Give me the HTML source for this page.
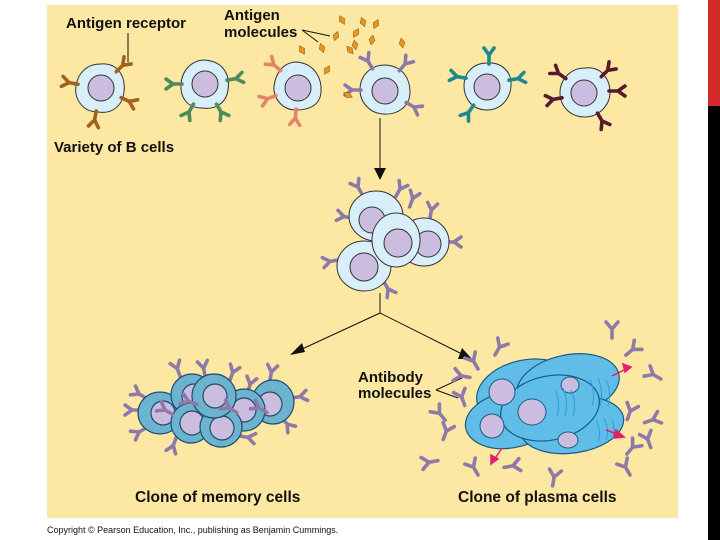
<!DOCTYPE html>
<html><head><meta charset="utf-8"><style>
html,body{margin:0;padding:0;background:#fff;}
svg{display:block;}
text{font-family:"Liberation Sans",Arial,sans-serif;font-weight:bold;fill:#111;}
</style></head><body>
<svg width="720" height="540" viewBox="0 0 720 540" xmlns="http://www.w3.org/2000/svg">
<defs>
<g id="r"><path d="M0,1 L0,-8 L-5,-15 M0,-8 L5,-15" fill="none" stroke-width="3.6" stroke-linecap="round" stroke-linejoin="round"/></g>
<g id="ab"><path d="M0,8 L0,-1 L-6,-8 M0,-1 L6,-8" fill="none" stroke="#8e7aa8" stroke-width="3.6" stroke-linecap="round" stroke-linejoin="round"/></g>
<g id="ag"><path d="M0,-5 L3,0 L0,5 L-3,0Z" fill="#e8961e" stroke="#8a5a10" stroke-width="0.5"/></g>
</defs>
<rect x="47" y="5" width="631" height="513" fill="#fce8a3"/>
<rect x="708" y="0" width="12" height="106" fill="#d32a2a"/>
<rect x="708" y="106" width="12" height="434" fill="#000"/>

<!-- labels -->
<text x="66" y="28" font-size="15">Antigen receptor</text>
<text x="224" y="20" font-size="15">Antigen</text>
<text x="224" y="37" font-size="15">molecules</text>
<text x="54" y="152" font-size="15">Variety of B cells</text>
<text x="358" y="382" font-size="15">Antibody</text>
<text x="358" y="398" font-size="15">molecules</text>
<text x="135" y="502" font-size="15.5">Clone of memory cells</text>
<text x="458" y="502" font-size="15.5">Clone of plasma cells</text>
<text x="47" y="533" font-size="9" style="font-weight:normal">Copyright © Pearson Education, Inc., publishing as Benjamin Cummings.</text>

<!-- leader lines -->
<g stroke="#111" stroke-width="1" fill="none">
<line x1="128" y1="33" x2="128" y2="62"/>
<path d="M302,30 L318,42 M302,30 L330,36"/>
<path d="M436,390 L462,378 M436,390 L458,398"/>
<line x1="380" y1="118" x2="380" y2="170"/>
<path d="M380,293 L380,313 L300,350 M380,313 L462,354"/>
</g>
<path d="M374,168 L386,168 L380,180Z" fill="#111"/>
<path d="M290,355 L302,343 L305,352Z" fill="#111"/>
<path d="M472,359 L458,359 L462,348Z" fill="#111"/>

<!-- top row cells -->
<g stroke="#333" stroke-width="1">
<path d="M100,64 C120,62 126,80 124,92 C122,108 110,114 98,112 C82,112 74,98 76,86 C78,72 88,64 100,64Z" fill="#d8eef9"/>
<circle cx="101" cy="88" r="13" fill="#cbbde0"/>
<path d="M205,60 C226,62 230,78 228,90 C226,104 214,110 202,108 C186,108 180,96 181,84 C182,70 192,60 205,60Z" fill="#d8eef9"/>
<circle cx="205" cy="84" r="13" fill="#cbbde0"/>
<path d="M297,62 C316,64 322,80 321,92 C320,106 308,110 296,110 C282,110 273,98 274,86 C276,72 284,62 297,62Z" fill="#d8eef9"/>
<circle cx="298" cy="88" r="13" fill="#cbbde0"/>
<path d="M385,65 C404,66 410,80 410,92 C410,106 398,115 384,114 C370,114 360,102 360,90 C360,76 370,65 385,65Z" fill="#d8eef9"/>
<circle cx="385" cy="91" r="13" fill="#cbbde0"/>
<path d="M487,63 C502,62 512,72 511,86 C510,100 500,110 487,110 C472,110 464,98 464,86 C464,72 474,63 487,63Z" fill="#d8eef9"/>
<circle cx="487" cy="87" r="13" fill="#cbbde0"/>
<path d="M585,68 C602,66 610,80 610,92 C610,106 598,117 585,117 C570,117 560,106 560,93 C560,80 570,68 585,68Z" fill="#d8eef9"/>
<circle cx="584" cy="93" r="13" fill="#cbbde0"/>
</g>
<g stroke="#a0621e">
<use href="#r" transform="translate(77,84) rotate(-80)"/>
<use href="#r" transform="translate(117,71) rotate(45)"/>
<use href="#r" transform="translate(122,98) rotate(115)"/>
<use href="#r" transform="translate(96,112) rotate(190)"/>
</g>
<g stroke="#4f8a5c">
<use href="#r" transform="translate(181,84) rotate(-90)"/>
<use href="#r" transform="translate(228,80) rotate(80)"/>
<use href="#r" transform="translate(217,105) rotate(150)"/>
<use href="#r" transform="translate(193,105) rotate(210)"/>
</g>
<g stroke="#e4836b">
<use href="#r" transform="translate(280,70) rotate(-50)"/>
<use href="#r" transform="translate(275,96) rotate(250)"/>
<use href="#r" transform="translate(296,110) rotate(185)"/>
</g>
<g stroke="#8e7aa8">
<use href="#r" transform="translate(372,68) rotate(-30)"/>
<use href="#r" transform="translate(400,70) rotate(40)"/>
<use href="#r" transform="translate(360,90) rotate(-90)"/>
<use href="#r" transform="translate(407,103) rotate(120)"/>
</g>
<g stroke="#1e8a8f">
<use href="#r" transform="translate(489,63) rotate(0)"/>
<use href="#r" transform="translate(510,80) rotate(80)"/>
<use href="#r" transform="translate(465,78) rotate(-80)"/>
<use href="#r" transform="translate(473,106) rotate(215)"/>
</g>
<g stroke="#5a1a2e">
<use href="#r" transform="translate(602,76) rotate(45)"/>
<use href="#r" transform="translate(610,91) rotate(90)"/>
<use href="#r" transform="translate(598,114) rotate(150)"/>
<use href="#r" transform="translate(561,98) rotate(260)"/>
<use href="#r" transform="translate(565,78) rotate(-55)"/>
</g>
<use href="#ag" transform="translate(322,48) rotate(-20)"/>
<use href="#ag" transform="translate(336,36) rotate(20)"/>
<use href="#ag" transform="translate(342,20) rotate(-30)"/>
<use href="#ag" transform="translate(356,33) rotate(30)"/>
<use href="#ag" transform="translate(363,22) rotate(-20)"/>
<use href="#ag" transform="translate(376,24) rotate(25)"/>
<use href="#ag" transform="translate(350,50) rotate(-40)"/>
<use href="#ag" transform="translate(327,70) rotate(30)"/>
<use href="#ag" transform="translate(302,50) rotate(-30)"/>
<use href="#ag" transform="translate(355,45) rotate(-10)"/>
<use href="#ag" transform="translate(372,40) rotate(10)"/>
<use href="#ag" transform="translate(402,43) rotate(-10)"/>
<use href="#ag" transform="translate(348,95) rotate(-60)"/>

<!-- middle cluster -->
<g stroke="#8e7aa8">
<use href="#r" transform="translate(362,194) rotate(-30)"/>
<use href="#r" transform="translate(396,196) rotate(30)"/>
<use href="#r" transform="translate(352,218) rotate(-80)"/>
<use href="#r" transform="translate(410,206) rotate(20)"/>
<use href="#r" transform="translate(430,218) rotate(10)"/>
<use href="#r" transform="translate(446,242) rotate(90)"/>
<use href="#r" transform="translate(338,260) rotate(-100)"/>
<use href="#r" transform="translate(384,282) rotate(150)"/>
</g>
<g stroke="#333" stroke-width="1">
<ellipse cx="376" cy="216" rx="27" ry="25" fill="#d8eef9"/>
<circle cx="372" cy="220" r="13" fill="#cbbde0"/>
<ellipse cx="424" cy="242" rx="25" ry="24" fill="#d8eef9"/>
<circle cx="428" cy="244" r="13" fill="#cbbde0"/>
<ellipse cx="364" cy="266" rx="27" ry="25" fill="#d8eef9"/>
<circle cx="364" cy="267" r="14" fill="#cbbde0"/>
<ellipse cx="396" cy="240" rx="24" ry="27" fill="#d8eef9"/>
<circle cx="398" cy="243" r="14" fill="#cbbde0"/>
</g>

<!-- memory cluster -->
<g stroke="#8e7aa8">
<use href="#r" transform="translate(146,398) rotate(-60)"/>
<use href="#r" transform="translate(140,410) rotate(-90)"/>
<use href="#r" transform="translate(146,428) rotate(-120)"/>
<use href="#r" transform="translate(180,376) rotate(-20)"/>
<use href="#r" transform="translate(205,376) rotate(-10)"/>
<use href="#r" transform="translate(230,380) rotate(20)"/>
<use href="#r" transform="translate(248,392) rotate(15)"/>
<use href="#r" transform="translate(270,380) rotate(10)"/>
<use href="#r" transform="translate(292,398) rotate(80)"/>
<use href="#r" transform="translate(282,418) rotate(140)"/>
<use href="#r" transform="translate(240,436) rotate(100)"/>
<use href="#r" transform="translate(176,438) rotate(200)"/>
</g>
<g stroke="#1f4d6a" stroke-width="1.2">
<ellipse cx="160" cy="413" rx="22" ry="21" fill="#6bb3cf"/><circle cx="163" cy="413" r="12" fill="#cbbde0"/>
<ellipse cx="273" cy="402" rx="21" ry="22" fill="#6bb3cf"/><circle cx="270" cy="404" r="12" fill="#cbbde0"/>
<ellipse cx="192" cy="395" rx="21" ry="21" fill="#6bb3cf"/><circle cx="194" cy="396" r="12" fill="#cbbde0"/>
<ellipse cx="191" cy="423" rx="20" ry="20" fill="#6bb3cf"/><circle cx="192" cy="423" r="12" fill="#cbbde0"/>
<ellipse cx="244" cy="410" rx="21" ry="21" fill="#6bb3cf"/><circle cx="244" cy="410" r="12" fill="#cbbde0"/>
<ellipse cx="221" cy="427" rx="21" ry="20" fill="#6bb3cf"/><circle cx="222" cy="428" r="12" fill="#cbbde0"/>
<ellipse cx="214" cy="396" rx="22" ry="22" fill="#6bb3cf"/><circle cx="215" cy="396" r="12" fill="#cbbde0"/>
</g>
<g stroke="#8e7aa8">
<use href="#r" transform="translate(172,414) rotate(-60)"/>
<use href="#r" transform="translate(196,404) rotate(-70)"/>
<use href="#r" transform="translate(236,412) rotate(-60)"/>
<use href="#r" transform="translate(266,412) rotate(-60)"/>
</g>

<!-- plasma cluster -->
<g stroke="#1a5a80" stroke-width="1.2" fill="#5fbde8">
<ellipse cx="526" cy="392" rx="50" ry="32" transform="rotate(-12 526 392)"/>
<ellipse cx="510" cy="420" rx="45" ry="28" transform="rotate(-10 510 420)"/>
<ellipse cx="568" cy="385" rx="52" ry="30" transform="rotate(-12 568 385)"/>
<ellipse cx="572" cy="425" rx="52" ry="28" transform="rotate(-8 572 425)"/>
<ellipse cx="550" cy="408" rx="50" ry="32" transform="rotate(-12 550 408)"/>
</g>
<g stroke="#1a5a80" fill="#cbbde0" stroke-width="1">
<ellipse cx="502" cy="392" rx="13" ry="13"/>
<ellipse cx="492" cy="426" rx="12" ry="12"/>
<ellipse cx="532" cy="412" rx="14" ry="13"/>
<ellipse cx="568" cy="440" rx="10" ry="8"/>
<ellipse cx="570" cy="385" rx="9" ry="8"/>
</g>
<g stroke="#2aa0d8" fill="none" stroke-width="1">
<path d="M555,390 q6,12 2,26 M563,388 q6,14 2,28 M571,390 q6,12 2,26 M590,380 q6,12 2,26 M598,378 q6,14 2,28 M606,380 q6,12 2,26 M596,420 q6,12 2,22 M604,418 q6,12 2,22 M612,420 q4,10 0,20"/>
</g>
<g stroke="#e0206a" stroke-width="1.5" fill="#e0206a">
<line x1="612" y1="376" x2="628" y2="368"/><path d="M631,367 L623,364 L625,372Z"/>
<line x1="606" y1="430" x2="620" y2="435"/><path d="M624,437 L616,430 L614,438Z"/>
<line x1="502" y1="448" x2="494" y2="460"/><path d="M491,464 L491,455 L498,459Z"/>
</g>
<use href="#ab" transform="translate(474,362) rotate(-30)"/>
<use href="#ab" transform="translate(499,348) rotate(30)"/>
<use href="#ab" transform="translate(462,376) rotate(-80)"/>
<use href="#ab" transform="translate(462,398) rotate(-20)"/>
<use href="#ab" transform="translate(440,414) rotate(-40)"/>
<use href="#ab" transform="translate(446,432) rotate(20)"/>
<use href="#ab" transform="translate(430,462) rotate(-100)"/>
<use href="#ab" transform="translate(474,468) rotate(-30)"/>
<use href="#ab" transform="translate(512,466) rotate(80)"/>
<use href="#ab" transform="translate(554,478) rotate(10)"/>
<use href="#ab" transform="translate(612,330) rotate(0)"/>
<use href="#ab" transform="translate(632,350) rotate(50)"/>
<use href="#ab" transform="translate(654,375) rotate(-60)"/>
<use href="#ab" transform="translate(630,412) rotate(20)"/>
<use href="#ab" transform="translate(652,420) rotate(70)"/>
<use href="#ab" transform="translate(648,440) rotate(-20)"/>
<use href="#ab" transform="translate(632,448) rotate(40)"/>
<use href="#ab" transform="translate(626,468) rotate(-30)"/>
</svg>
</body></html>
